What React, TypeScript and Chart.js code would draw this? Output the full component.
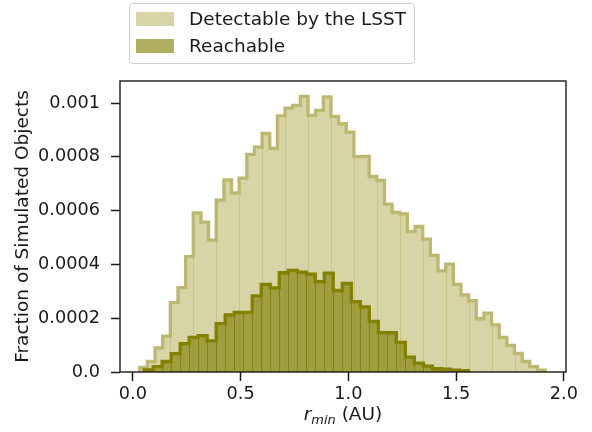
import React, { useEffect, useRef } from "react";
import { Chart, registerables } from "chart.js";

Chart.register(...registerables);

// ---- Data ----
const X_TICKS = [0, 0.5, 1.0, 1.5, 2.0];
const X_TICK_LABELS = ["0.0", "0.5", "1.0", "1.5", "2.0"];
const Y_TICKS = [0, 0.0002, 0.0004, 0.0006, 0.0008, 0.001];
const Y_TICK_LABELS = ["0.0", "0.0002", "0.0004", "0.0006", "0.0008", "0.001"];

// histogram bin ranges (first edge, last edge)
const DETECT_RANGE = [0.0316, 1.913];
const REACH_RANGE = [0.052, 1.557];

// bin heights, fraction of simulated objects
const DETECTABLE = [
  1.7e-5, 3.9e-5, 9.0e-5, 13.3e-5, 25.8e-5, 31.4e-5, 42.9e-5, 59.2e-5, 55.7e-5, 49.0e-5,
  63.9e-5, 71.4e-5, 66.6e-5, 72.1e-5, 80.9e-5, 83.6e-5, 88.7e-5, 83.2e-5, 95.2e-5, 98.1e-5,
  99.1e-5, 102.5e-5, 95.4e-5, 97.3e-5, 102.3e-5, 95.0e-5, 92.3e-5, 89.2e-5, 80.1e-5, 80.2e-5,
  72.7e-5, 71.2e-5, 62.4e-5, 59.3e-5, 58.8e-5, 52.2e-5, 54.1e-5, 49.4e-5, 43.4e-5, 37.6e-5,
  40.1e-5, 32.6e-5, 28.7e-5, 26.5e-5, 19.8e-5, 21.9e-5, 17.5e-5, 12.9e-5, 9.9e-5, 6.9e-5,
  3.9e-5, 2.0e-5, 0.7e-5,
];
const REACHABLE = [
  0.8e-5, 2.0e-5, 3.9e-5, 6.8e-5, 10.5e-5, 12.9e-5, 13.5e-5, 11.6e-5, 18.0e-5, 21.2e-5,
  22.2e-5, 22.2e-5, 28.3e-5, 32.6e-5, 31.3e-5, 36.9e-5, 37.8e-5, 37.1e-5, 36.4e-5, 33.6e-5,
  36.8e-5, 30.3e-5, 32.9e-5, 26.2e-5, 24.2e-5, 18.8e-5, 14.6e-5, 14.6e-5, 11.0e-5, 5.5e-5,
  3.3e-5, 2.2e-5, 1.2e-5, 1.1e-5, 0.7e-5, 0.5e-5,
];

const LEGEND_LABELS = ["Detectable by the LSST", "Reachable"];

const X_MIN = -0.06;
const X_MAX = 2.01;
const Y_MAX = 0.001082;

const DETECT_FILL = "rgba(189,183,107,0.6)";
const DETECT_EDGE = "#bdb86f";
const DETECT_INNER = "rgba(189,183,107,0.55)";
const REACH_FILL = "rgba(128,124,0,0.62)";
const REACH_EDGE = "#828100";
const REACH_INNER = "rgba(120,118,10,0.75)";
const INK = "#1a1a1a";

function binEdges(range: number[], n: number) {
  const out: number[] = [];
  for (let i = 0; i <= n; i++) out.push(range[0] + ((range[1] - range[0]) * i) / n);
  return out;
}

function stepPoints(edges: number[], vals: number[]) {
  const pts: { x: number; y: number }[] = [{ x: edges[0], y: 0 }];
  vals.forEach((v, i) => pts.push({ x: edges[i], y: v }));
  pts.push({ x: edges[vals.length], y: 0 });
  return pts;
}

const detectEdges = binEdges(DETECT_RANGE, DETECTABLE.length);
const reachEdges = binEdges(REACH_RANGE, REACHABLE.length);

const BIN_SETS: Record<string, { edges: number[]; vals: number[]; every: number; offset: number; color: string }> = {
  detect: { edges: detectEdges, vals: DETECTABLE, every: 3, offset: 1, color: DETECT_INNER },
  reach: { edges: reachEdges, vals: REACHABLE, every: 1, offset: 0, color: REACH_INNER },
};

const innerLinesPlugin = {
  id: "innerLines",
  beforeDatasetDraw(chart: any, args: any) {
    const ds = chart.data.datasets[args.index];
    const set = BIN_SETS[ds.binKey];
    if (!set) return;
    const { ctx, chartArea, scales } = chart;
    ctx.save();
    ctx.beginPath();
    ctx.rect(chartArea.left, chartArea.top, chartArea.right - chartArea.left, chartArea.bottom - chartArea.top);
    ctx.clip();
    ctx.strokeStyle = set.color;
    ctx.lineWidth = 1;
    const y0 = scales.y.getPixelForValue(0);
    for (let k = 1; k < set.vals.length; k++) {
      if ((k - set.offset) % set.every !== 0) continue;
      const h = Math.min(set.vals[k - 1], set.vals[k]);
      const x = Math.round(scales.x.getPixelForValue(set.edges[k])) + 0.5;
      ctx.beginPath();
      ctx.moveTo(x, y0);
      ctx.lineTo(x, scales.y.getPixelForValue(h));
      ctx.stroke();
    }
    ctx.restore();
  },
};

const framePlugin = {
  id: "frame",
  afterDatasetsDraw(chart: any) {
    const { ctx, chartArea } = chart;
    ctx.save();
    ctx.strokeStyle = INK;
    ctx.lineWidth = 1.4;
    ctx.strokeRect(chartArea.left, chartArea.top, chartArea.right - chartArea.left, chartArea.bottom - chartArea.top);
    ctx.restore();
  },
};

export default function App() {
  const canvasRef = useRef<HTMLCanvasElement | null>(null);

  useEffect(() => {
    const canvas = canvasRef.current;
    if (!canvas) return;
    const tickFont = { family: "'DejaVu Sans', sans-serif", size: 17.7 };
    const chart = new Chart(canvas, {
      type: "line",
      data: {
        datasets: [
          {
            label: LEGEND_LABELS[1],
            binKey: "reach",
            data: stepPoints(reachEdges, REACHABLE),
            stepped: "before",
            fill: "origin",
            backgroundColor: REACH_FILL,
            borderColor: REACH_EDGE,
            borderWidth: 3.3,
            borderJoinStyle: "miter",
            borderCapStyle: "butt",
            pointRadius: 0,
            order: 1,
          } as any,
          {
            label: LEGEND_LABELS[0],
            binKey: "detect",
            data: stepPoints(detectEdges, DETECTABLE),
            stepped: "before",
            fill: "origin",
            backgroundColor: DETECT_FILL,
            borderColor: DETECT_EDGE,
            borderWidth: 3.3,
            borderJoinStyle: "miter",
            borderCapStyle: "butt",
            pointRadius: 0,
            order: 2,
          } as any,
        ],
      },
      options: {
        responsive: false,
        animation: false,
        events: [],
        layout: { padding: { left: 0, right: 26, top: 81, bottom: 0 } },
        plugins: { legend: { display: false }, tooltip: { enabled: false } },
        scales: {
          x: {
            type: "linear",
            min: X_MIN,
            max: X_MAX,
            afterBuildTicks: (s: any) => {
              s.ticks = X_TICKS.map((v) => ({ value: v }));
            },
            afterFit: (s: any) => {
              s.height = 60;
            },
            ticks: {
              autoSkip: false,
              maxRotation: 0,
              color: INK,
              font: tickFont,
              padding: 3,
              callback: (_v: any, i: number) => X_TICK_LABELS[i],
            },
            grid: {
              drawOnChartArea: false,
              drawTicks: true,
              tickLength: 9,
              tickWidth: 1.5,
              tickColor: INK,
            },
            border: { display: false },
          },
          y: {
            type: "linear",
            min: 0,
            max: Y_MAX,
            afterBuildTicks: (s: any) => {
              s.ticks = Y_TICKS.map((v) => ({ value: v }));
            },
            afterFit: (s: any) => {
              s.width = 120;
            },
            ticks: {
              autoSkip: false,
              color: INK,
              font: tickFont,
              padding: 11,
              callback: (_v: any, i: number) => Y_TICK_LABELS[i],
            },
            grid: {
              drawOnChartArea: false,
              drawTicks: true,
              tickLength: 9,
              tickWidth: 1.5,
              tickColor: INK,
            },
            border: { display: false },
            title: {
              display: true,
              text: "Fraction of Simulated Objects",
              color: INK,
              font: { family: "'DejaVu Sans', sans-serif", size: 18.5 },
              padding: { top: 12, bottom: 0 },
            },
          },
        },
      },
      plugins: [innerLinesPlugin, framePlugin],
    } as any);
    return () => chart.destroy();
  }, []);

  const font = "'DejaVu Sans', sans-serif";
  return (
    <div style={{ position: "fixed", left: 0, top: 0, width: 592, height: 432, background: "#fff", overflow: "hidden" }}>
      <canvas ref={canvasRef} width={592} height={432} style={{ position: "absolute", left: 0, top: 0, width: 592, height: 432 }} />
      {/* legend */}
      <div
        style={{
          position: "absolute",
          left: 129,
          top: 3,
          width: 286,
          height: 61,
          boxSizing: "border-box",
          border: "1px solid #cccccc",
          borderRadius: 4,
          background: "rgba(255,255,255,0.8)",
        }}
      />
      <div style={{ position: "absolute", left: 136, top: 12, width: 38, height: 14, background: DETECT_FILL }} />
      <div style={{ position: "absolute", left: 136, top: 39, width: 38, height: 14, background: REACH_FILL }} />
      <div style={{ position: "absolute", left: 189, top: 8, height: 22, lineHeight: "22px", fontFamily: font, fontSize: 18.5, color: INK, whiteSpace: "nowrap" }}>
        {LEGEND_LABELS[0]}
      </div>
      <div style={{ position: "absolute", left: 189, top: 35, height: 22, lineHeight: "22px", fontFamily: font, fontSize: 18.5, color: INK, whiteSpace: "nowrap" }}>
        {LEGEND_LABELS[1]}
      </div>
      {/* x axis title */}
      <div
        style={{
          position: "absolute",
          left: 120,
          width: 446,
          top: 402,
          height: 26,
          lineHeight: "24px",
          textAlign: "center",
          fontFamily: font,
          fontSize: 18.5,
          color: INK,
          whiteSpace: "nowrap",
        }}
      >
        <span style={{ fontStyle: "italic" }}>r</span>
        <span style={{ fontStyle: "italic", fontSize: "70%", position: "relative", top: "0.28em" }}>min</span>
        <span> (AU)</span>
      </div>
    </div>
  );
}
